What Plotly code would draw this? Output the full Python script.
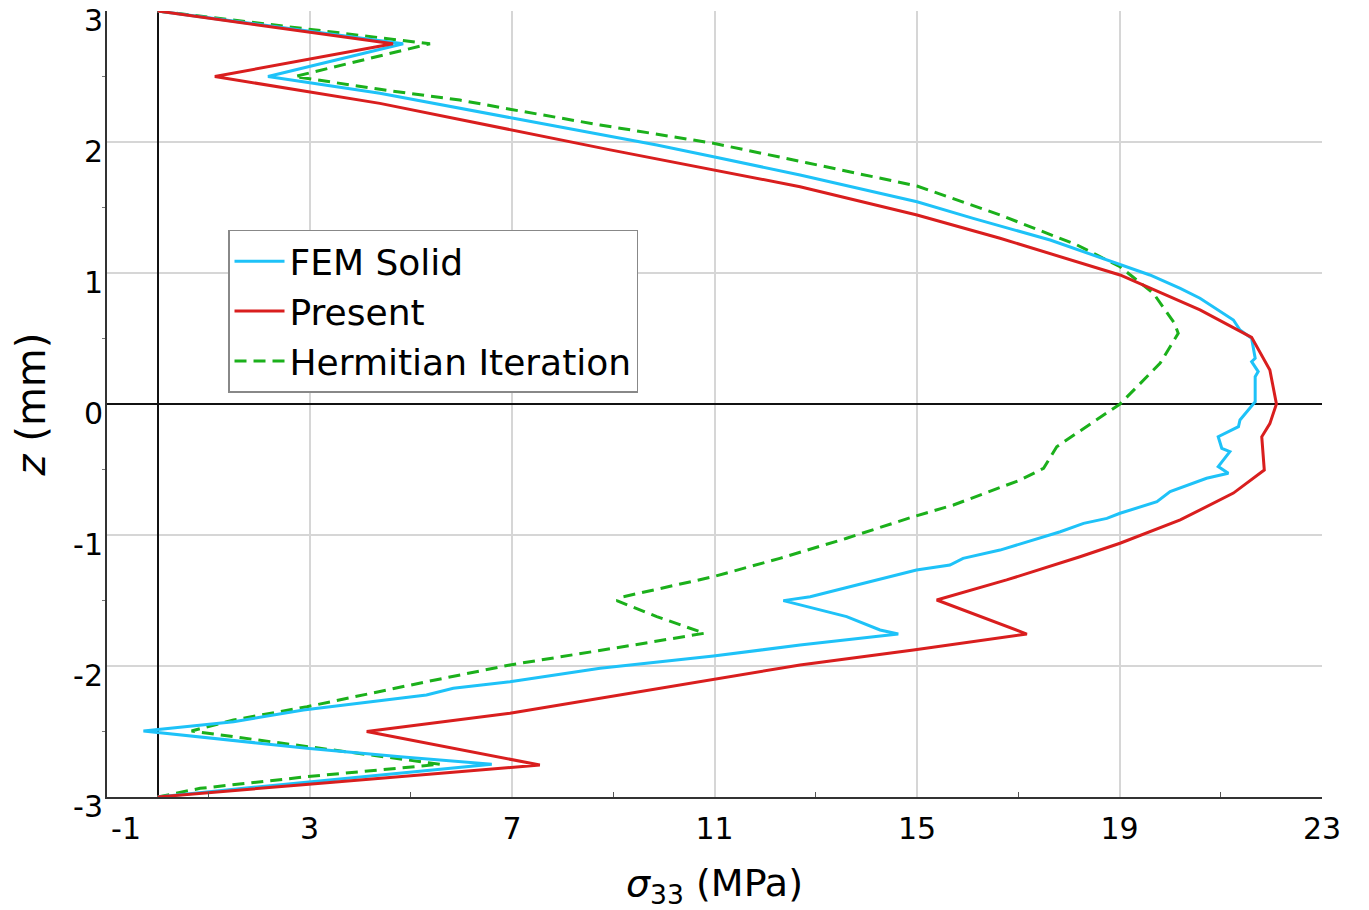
import plotly.graph_objects as go

# ---- data ----
fem_z = [3, 2.75, 2.5, 2.372, 2.181, 1.977, 1.888, 1.748, 1.544, 1.417, 1.252, 1.061, 0.985,
         0.883, 0.807, 0.641, 0.565, 0.501, 0.349, 0.323, 0.247, 0.208, 0.018, -0.122, -0.173,
         -0.25, -0.338, -0.364, -0.478, -0.529, -0.567, -0.669, -0.746, -0.834, -0.873, -0.911,
         -0.975, -1.115, -1.178, -1.229, -1.267, -1.382, -1.471, -1.501, -1.623, -1.725, -1.756,
         -1.84, -1.924, -2.018, -2.12, -2.17, -2.221, -2.336, -2.425, -2.496, -2.565, -2.628,
         -2.692, -2.75, -2.921, -3]
fem_s = [0, 4.85, 2.18, 4.39, 7.03, 9.86, 10.98, 12.69, 15.0, 16.11, 17.63, 19.01, 19.6,
         20.2, 20.59, 21.25, 21.38, 21.61, 21.68, 21.61, 21.74, 21.68, 21.68, 21.38, 21.35,
         20.95, 21.02, 21.18, 20.95, 21.15, 20.72, 20.0, 19.74, 19.01, 18.75, 18.29,
         17.83, 16.64, 15.91, 15.65, 14.99, 13.81, 12.89, 12.36, 13.61, 14.27, 14.63,
         12.69, 10.98, 8.74, 6.96, 5.84, 5.31, 2.88, 1.5, -0.28, 1.36, 2.95,
         4.79, 6.6, 2.02, 0]

present_z = [3, 2.75, 2.5, 2.295, 1.94, 1.659, 1.443, 1.265, 0.985, 0.718, 0.509, 0.26, 0.0,
             -0.15, -0.25, -0.504, -0.68, -0.885, -1.063, -1.166, -1.343, -1.496, -1.756,
             -1.878, -1.992, -2.107, -2.361, -2.5, -2.756, -2.908, -3]
present_s = [0, 4.65, 1.13, 4.39, 8.94, 12.69, 15.0, 16.64, 19.01, 20.59, 21.61, 21.97, 22.1,
             21.97, 21.81, 21.86, 21.25, 20.2, 19.01, 18.22, 16.77, 15.39, 17.17,
             14.93, 12.69, 10.92, 6.96, 4.13, 7.55, 2.81, 0]

herm_z = [3, 2.75, 2.5, 2.402, 2.32, 2.25, 2.13, 1.99, 1.842, 1.664, 1.443, 1.214, 1.048, 0.845,
          0.62, 0.54, 0.31, 0.0, -0.326, -0.491, -0.58, -0.771, -0.86, -1.025, -1.178, -1.318,
          -1.471, -1.501, -1.623, -1.75, -1.84, -1.992, -2.12, -2.311, -2.412, -2.496, -2.54,
          -2.616, -2.692, -2.75, -2.845, -2.934, -3]
herm_s = [0, 5.38, 2.71, 4.39, 5.97, 6.96, 8.74, 10.98, 12.82, 15.0, 16.64, 18.16, 19.01, 19.67,
          20.08, 20.16, 19.8, 19.01, 17.76, 17.5, 17.04, 15.72, 14.93, 13.61, 12.29, 10.98,
          9.2, 9.07, 9.86, 10.8, 9.4, 6.96, 5.31, 2.95, 1.5, 0.67, 1.5,
          2.95, 4.46, 5.58, 2.95, 0.84, 0]

x_ticks = [-1, 3, 7, 11, 15, 19, 23]
x_ticktext = ["\u00a0\u00a0\u00a0\u00a0-1", "3", "7", "11", "15", "19", "23"]
y_ticks = [-3, -2, -1, 0, 1, 2, 3]

FONT = "DejaVu Sans"

fig = go.Figure()
fig.add_trace(go.Scatter(x=herm_s, y=herm_z, mode="lines", name="Hermitian Iteration",
                         line=dict(color="#1BB01B", width=3, dash="12px,7px"), legendrank=3))
fig.add_trace(go.Scatter(x=fem_s, y=fem_z, mode="lines", name="FEM Solid",
                         line=dict(color="#1EC2F8", width=3), legendrank=1))
fig.add_trace(go.Scatter(x=present_s, y=present_z, mode="lines", name="Present",
                         line=dict(color="#D91E1E", width=3), legendrank=2))

fig.update_layout(
    width=1361, height=902,
    margin=dict(l=99, r=47, t=3, b=113),
    paper_bgcolor="white", plot_bgcolor="white",
    font=dict(family=FONT, color="black"),
    showlegend=True,
    legend=dict(x=0.0996, y=0.7215, xanchor="left", yanchor="top",
                font=dict(size=36, family=FONT, color="black"),
                bgcolor="white", bordercolor="#888888", borderwidth=1.5,
                itemwidth=50, tracegroupgap=0),
    xaxis=dict(range=[-1, 23], tickvals=x_ticks, ticktext=x_ticktext,
               automargin=False, ticklabeloverflow="allow", ticklabelstandoff=4,
               showgrid=True, gridcolor="#d6d6d6", gridwidth=1.5,
               zeroline=True, zerolinecolor="#111111", zerolinewidth=2,
               showline=True, linecolor="#333333", linewidth=2,
               ticks="", tickfont=dict(size=30, family=FONT),
               minor=dict(tickvals=[1, 5, 9, 13, 17, 21], ticks="inside", ticklen=5,
                          tickcolor="#555555", showgrid=False),
               title=dict(text="<i>σ</i><sub>33</sub> (MPa)", font=dict(size=38, family=FONT),
                          standoff=24)),
    yaxis=dict(range=[-3, 3], tickvals=y_ticks, ticktext=[str(v) for v in y_ticks],
               automargin=False, ticklabeloverflow="allow",
               ticklabelshift=9, ticklabelstandoff=-4,
               showgrid=True, gridcolor="#d6d6d6", gridwidth=1.5,
               zeroline=True, zerolinecolor="#111111", zerolinewidth=2,
               showline=True, linecolor="#333333", linewidth=2,
               ticks="", tickfont=dict(size=30, family=FONT),
               minor=dict(tickvals=[-2.5, -1.5, -0.5, 0.5, 1.5, 2.5], ticks="outside", ticklen=3,
                          tickcolor="#777777", showgrid=False),
               title=dict(text="<i>z</i> (mm)", font=dict(size=40, family=FONT), standoff=18)),
)

fig.write_html("out.html")
